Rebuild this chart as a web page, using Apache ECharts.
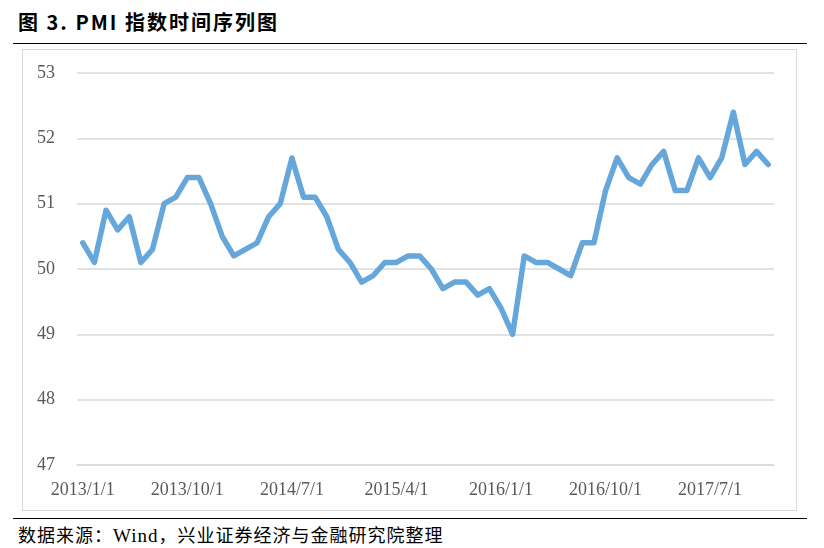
<!DOCTYPE html>
<html>
<head>
<meta charset="utf-8">
<script src="https://cdn.jsdelivr.net/npm/echarts@6/dist/echarts.min.js"></script>
<style>
html,body{margin:0;padding:0;background:#fff;width:824px;height:548px;overflow:hidden;}
#title{position:absolute;left:18px;top:7px;font-family:"Noto Sans CJK SC";font-weight:bold;font-size:20px;letter-spacing:2px;color:#000;white-space:pre;}
#line1{position:absolute;left:13px;top:43px;width:794px;height:0;border-top:1.5px solid #000;}
#box{position:absolute;left:22px;top:49px;width:773px;height:460px;border:1.5px solid #d9d9d9;}
#chart{position:absolute;left:0;top:0;width:773px;height:460px;}
#line2{position:absolute;left:13px;top:518px;width:794px;height:0;border-top:1.5px solid #000;}
#foot{position:absolute;left:18px;top:521px;font-family:"Noto Sans CJK SC","Liberation Serif";font-size:18px;letter-spacing:1px;color:#000;white-space:pre;}
#foot .w{font-family:"Liberation Serif";font-size:19px;}
</style>
</head>
<body>
<div id="title">图 3. PMI 指数时间序列图</div>
<div id="line1"></div>
<div id="box"><div id="chart"></div></div>
<div id="line2"></div>
<div id="foot">数据来源：<span class="w">Wind</span>，兴业证券经济与金融研究院整理</div>
<script>
var months = [];
for (var y = 2013; y <= 2017; y++) { for (var m = 1; m <= 12; m++) { months.push(y + '/' + m + '/1'); } }
var pmiValues = [
  50.4, 50.1, 50.9, 50.6, 50.8, 50.1, 50.3, 51.0, 51.1, 51.4, 51.4, 51.0,
  50.5, 50.2, 50.3, 50.4, 50.8, 51.0, 51.7, 51.1, 51.1, 50.8, 50.3, 50.1,
  49.8, 49.9, 50.1, 50.1, 50.2, 50.2, 50.0, 49.7, 49.8, 49.8, 49.6, 49.7,
  49.4, 49.0, 50.2, 50.1, 50.1, 50.0, 49.9, 50.4, 50.4, 51.2, 51.7, 51.4,
  51.3, 51.6, 51.8, 51.2, 51.2, 51.7, 51.4, 51.7, 52.4, 51.6, 51.8, 51.6
];
var yTicks = [47, 48, 49, 50, 51, 52, 53];

var chart = echarts.init(document.getElementById('chart'));
chart.setOption({
  animation: false,
  grid: { left: 54, right: 22, top: 23, bottom: 45 },
  xAxis: {
    type: 'category',
    data: months,
    boundaryGap: true,
    axisLine: { lineStyle: { color: '#d9d9d9', width: 1.5 } },
    axisTick: { interval: 8, length: 5, lineStyle: { color: '#d9d9d9', width: 1.5 } },
    axisLabel: { interval: 8, margin: 16, color: '#595959', fontFamily: 'Liberation Serif', fontSize: 18 }
  },
  yAxis: {
    type: 'value',
    min: yTicks[0],
    max: yTicks[yTicks.length - 1],
    interval: 1,
    axisLine: { show: false },
    axisTick: { show: false },
    splitLine: { lineStyle: { color: '#d9d9d9', width: 1.5 } },
    axisLabel: { margin: 22, color: '#595959', fontFamily: 'Liberation Serif', fontSize: 18 }
  },
  series: [{
    type: 'line',
    data: pmiValues,
    symbol: 'none',
    lineStyle: { color: '#65a6db', width: 5.5, join: 'round', cap: 'round' }
  }]
});
</script>
</body>
</html>
